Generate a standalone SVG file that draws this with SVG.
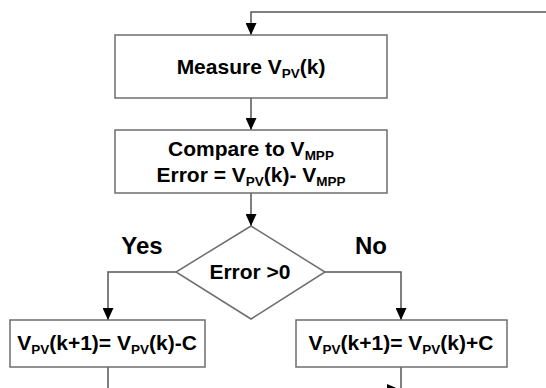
<svg xmlns="http://www.w3.org/2000/svg" width="546" height="388" viewBox="0 0 546 388">
<style>
.box{fill:#fff;stroke:#6e6e6e;stroke-width:1.5}
.ln{fill:none;stroke:#555;stroke-width:1.5}
.ah{fill:#000}
.t{font-family:"Liberation Sans",Arial,sans-serif;font-weight:bold;font-size:21px;fill:#000;text-anchor:middle}
.lab{font-family:"Liberation Sans",Arial,sans-serif;font-weight:bold;font-size:24px;fill:#000;text-anchor:middle}
.s{font-size:13.5px}
</style>
<defs>
<marker id="arr" markerWidth="12" markerHeight="11" refX="12" refY="5.5" orient="auto" markerUnits="userSpaceOnUse">
<path d="M0,0 L12,5.5 L0,11 Z" class="ah"/>
</marker>
</defs>
<g id="connectors">
<path class="ln" d="M546,12 H251 V35" marker-end="url(#arr)"/>
<path class="ln" d="M251,98 V130" marker-end="url(#arr)"/>
<path class="ln" d="M251,193 V226" marker-end="url(#arr)"/>
<path class="ln" d="M176,272 H108 V320" marker-end="url(#arr)"/>
<path class="ln" d="M325,272 H401 V320" marker-end="url(#arr)"/>
<path class="ln" d="M108,367 V390"/>
<path class="ln" d="M401,367 V390"/>
<path class="ah" d="M387,384 L401,390 L387,396 Z"/>
</g>
<g id="measure">
<rect class="box" x="115" y="35" width="272" height="63"/>
<text class="t" x="251" y="74">Measure V<tspan class="s" dy="4">PV</tspan><tspan dy="-4">(k)</tspan></text>
</g>
<g id="compare">
<rect class="box" x="115" y="130" width="272" height="63"/>
<text class="t" x="251" y="156">Compare to V<tspan class="s" dy="4">MPP</tspan></text>
<text class="t" x="251" y="182">Error = V<tspan class="s" dy="4">PV</tspan><tspan dy="-4">(k)- V</tspan><tspan class="s" dy="4">MPP</tspan></text>
</g>
<g id="decision">
<polygon class="box" points="251,226 325,272 251,319 176,272"/>
<text class="t" x="250" y="279">Error &gt;0</text>
</g>
<g id="yes-label"><text class="lab" x="142" y="254">Yes</text></g>
<g id="no-label"><text class="lab" x="371" y="254">No</text></g>
<g id="decrease">
<rect class="box" x="10" y="320" width="195" height="47"/>
<text class="t" x="107" y="350">V<tspan class="s" dy="4">PV</tspan><tspan dy="-4">(k+1)= V</tspan><tspan class="s" dy="4">PV</tspan><tspan dy="-4">(k)-C</tspan></text>
</g>
<g id="increase">
<rect class="box" x="296" y="320" width="211" height="47"/>
<text class="t" x="401" y="350">V<tspan class="s" dy="4">PV</tspan><tspan dy="-4">(k+1)= V</tspan><tspan class="s" dy="4">PV</tspan><tspan dy="-4">(k)+C</tspan></text>
</g>
</svg>
